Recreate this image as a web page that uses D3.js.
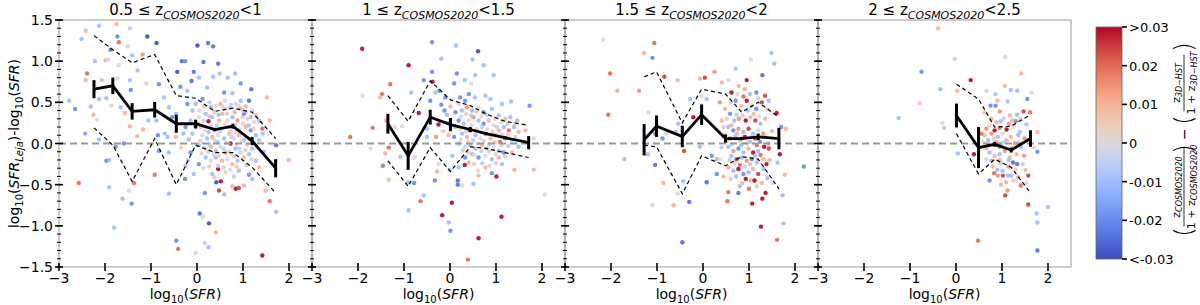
<!DOCTYPE html>
<html>
<head>
<meta charset="utf-8">
<script src="https://cdn.jsdelivr.net/npm/d3@7"></script>
<style>
  body { margin: 0; background: #fff; }
  svg { display: block; font-family: 'DejaVu Sans', sans-serif; }
</style>
</head>
<body>
<div id="chart"></div>
<script>
// redshift bins (panel titles)
const zLo = ['0.5', '1', '1.5', '2']
const zHi = ['1', '1.5', '2', '2.5']

// binned medians, errors and 16/84 percentiles, one array per panel
const binX = [
  [-2.24, -1.83, -1.41, -0.92, -0.45, -0.03, 0.39, 0.78, 1.20, 1.71],
  [-1.35, -0.91, -0.43, 0.01, 0.44, 0.78, 1.19, 1.71],
  [-1.28, -1.01, -0.45, -0.03, 0.49, 0.84, 1.20, 1.65],
  [0.01, 0.49, 0.84, 1.20, 1.62]
]
const medians = [
  [0.66, 0.70, 0.39, 0.41, 0.24, 0.24, 0.17, 0.21, 0.03, -0.30],
  [0.24, -0.15, 0.32, 0.23, 0.17, 0.12, 0.07, 0.01],
  [0.045, 0.21, 0.085, 0.35, 0.06, 0.06, 0.08, 0.06],
  [0.34, -0.05, -0.01, -0.08, 0.06]
]
const errors = [
  [0.11, 0.10, 0.10, 0.095, 0.11, 0.05, 0.02, 0.03, 0.05, 0.11],
  [0.12, 0.17, 0.09, 0.08, 0.03, 0.02, 0.02, 0.08],
  [0.19, 0.13, 0.13, 0.125, 0.05, 0.02, 0.04, 0.13],
  [0.145, 0.25, 0.03, 0.03, 0.10]
]
const upper = [
  [1.31, 1.14, 0.98, 1.08, 0.58, 0.55, 0.39, 0.43, 0.38, 0.06],
  [0.58, 0.27, 0.76, 0.53, 0.46, 0.36, 0.27, 0.22],
  [0.81, 0.87, 0.25, 0.66, 0.60, 0.38, 0.50, 0.32],
  [0.72, 0.54, 0.20, 0.21, 0.35]
]
const lower = [
  [0.19, -0.02, -0.46, 0.06, -0.50, -0.02, -0.11, -0.11, -0.29, -0.60],
  [-0.21, -0.52, -0.05, -0.34, -0.04, -0.06, -0.11, -0.17],
  [-0.02, -0.04, -0.61, -0.15, -0.27, -0.16, -0.19, -0.55],
  [0.12, -0.37, -0.19, -0.29, -0.60]
]

// galaxies: [log SFR, delta log SFR, delta z/(1+z)]
const pts1 = [
  [-2.13,1.43,-0.01],[-1.75,1.45,0.01],[-1.46,1.40,-0.005],[-2.42,1.37,0.01],[-2.51,1.27,-0.01],
  [-1.73,1.30,-0.02],[-1.70,1.23,0.02],[-1.51,1.18,0.005],[-1.88,1.14,-0.025],[-1.08,1.30,-0.03],
  [-0.88,1.22,-0.03],[-2.22,1.0,-0.01],[-1.99,1.01,0.01],[-1.93,1.02,0],[-1.41,1.07,-0.01],
  [-1.18,1.08,0.015],[-1.29,0.89,-0.01],[-1.70,0.95,0],[-2.39,0.85,0.02],[-2.42,0.77,0.01],
  [-2.07,0.77,0.01],[-1.73,0.79,0],[-1.46,0.77,-0.01],[-1.10,0.73,0.005],[-0.83,0.72,-0.02],
  [-1.44,0.65,-0.02],[-2.13,0.54,-0.01],[-1.97,0.55,-0.01],[-1.86,0.46,0.005],[-2.78,0.52,-0.01],
  [-2.65,0.42,-0.02],[-2.31,0.45,-0.01],[-2.25,0.35,0.01],[-2.17,0.29,0],[-2.43,0.12,-0.015],
  [-1.66,0.44,-0.01],[-1.57,0.37,0.01],[-1.46,0.21,0.01],[-1.17,0.17,0.01],[-1.06,0.28,-0.01],
  [-0.88,0.28,-0.01],[-1.30,0.09,0.01],[-0.85,0.10,-0.02],[-2.13,0.05,-0.01],[-1.77,-0.04,-0.02],
  [-1.59,0.0,-0.02],[-1.97,-0.21,-0.02],[-1.91,-0.20,-0.01],[-2.57,-0.48,0.02],[-1.91,-0.53,-0.01],
  [-1.48,-0.57,0],[-1.37,-0.48,0.02],[-1.62,-0.67,-0.01],[-1.42,-0.73,-0.02],[-1.80,-1.02,-0.01],
  [-0.92,-0.38,0.02],[-0.83,-0.09,-0.02],[-0.61,-0.11,-0.01],[-0.70,0.12,-0.01],[-0.46,0.08,0.01],
  [-0.61,-0.61,-0.01],[-0.26,-0.43,-0.02],[-0.25,-0.27,-0.01],[-0.45,-1.18,-0.02],[-0.41,-1.28,0.02],
  [-0.03,-1.33,0],[0.06,-0.85,-0.025],[0.13,-0.89,0],[0.26,-0.97,-0.03],[0.41,-1.08,0.01],
  [0.17,-1.21,-0.005],[0.25,-1.26,-0.01],[1.42,-1.36,0.03],[0.17,-0.60,-0.02],[0.42,-0.47,-0.03],
  [0.52,-0.46,0.03],[0.46,-0.31,0.03],[0.48,-0.57,0.025],[0.59,-0.62,-0.01],[0.84,-0.55,0.03],
  [0.91,-0.54,0.025],[1.02,-0.51,0.01],[0.77,-0.52,0.01],[1.13,-0.38,-0.02],[1.20,-0.43,-0.01],
  [1.49,-0.57,0.01],[1.58,-0.70,0.02],[1.72,-0.83,-0.01],[1.99,-0.20,0.01],[1.72,-0.02,-0.025],
  [1.52,0.56,0.01],[1.58,0.28,0.01],[0.01,1.19,-0.03],[0.24,1.22,-0.025],[0.35,1.18,-0.025],
  [-0.33,1.0,-0.025],[-0.26,1.0,-0.02],[0.14,0.99,-0.025],[0.46,0.97,-0.025],[-0.43,0.87,-0.03],
  [-0.07,0.87,-0.025],[0.49,0.85,-0.01],[-0.12,0.76,-0.025],[0.04,0.80,-0.01],[0.35,0.81,-0.01],
  [0.67,0.80,-0.01],[0.83,0.85,-0.01],[0.95,0.73,-0.02],[1.18,0.66,-0.025],[-0.21,0.64,-0.01],
  [-0.36,0.69,-0.02],[0.22,0.68,-0.01],[0.59,0.62,-0.02],[0.77,0.61,-0.01],[1.13,0.52,-0.025],
  [1.06,0.45,0.01],[-0.03,0.48,-0.01],[0.12,0.54,-0.02],[0.30,0.44,-0.01],[0.41,0.46,0],
  [0.51,0.48,0.01],[0.61,0.52,0],[0.71,0.43,-0.01],[0.84,0.48,0],[0.95,0.43,0.01],
  [1.06,0.38,0],[1.17,0.32,-0.01],[1.28,0.34,0.01],[1.35,0.28,-0.01],[1.42,0.18,0.02],
  [1.43,0.12,-0.01],[0.25,0.27,0.03],[0.19,0.36,-0.01],[0.04,0.32,0],[-0.14,0.28,-0.01],
  [-0.25,0.20,-0.02],[-0.30,0.12,-0.01],[-0.10,0.12,-0.01],[0.08,0.20,0.01],[0.30,0.22,0],
  [0.37,0.16,-0.01],[0.48,0.28,0.01],[0.55,0.36,0.01],[0.66,0.28,0],[0.77,0.32,-0.01],
  [0.88,0.28,0.015],[0.99,0.32,0],[1.06,0.20,0.01],[1.17,0.16,-0.02],[1.28,0.10,-0.01],
  [1.35,0.04,-0.01],[0.12,0.10,0],[0.22,0.06,-0.01],[0.33,0.08,0.01],[0.46,0.10,0],
  [0.59,0.06,-0.01],[0.70,0.12,0.01],[0.80,0.06,0],[0.91,0.10,0.01],[1.02,0.04,-0.01],
  [1.09,-0.02,0],[1.20,-0.06,-0.01],[0.04,-0.02,-0.01],[0.19,-0.06,0],[0.30,-0.04,0.01],
  [0.41,-0.09,-0.01],[0.51,-0.04,0],[0.62,-0.11,0.01],[0.73,0.0,0.03],[0.84,-0.06,-0.01],
  [0.95,-0.11,0],[1.02,-0.17,0.01],[1.13,-0.13,-0.01],[1.28,-0.21,-0.01],[1.35,-0.29,0.01],
  [0.19,-0.17,-0.01],[0.30,-0.21,0],[0.41,-0.17,-0.01],[0.55,-0.21,0.01],[0.66,-0.19,0],
  [0.77,-0.25,0.01],[0.88,-0.21,-0.01],[0.04,-0.25,-0.02],[-0.07,-0.37,-0.01],[0.33,-0.37,-0.01],
  [0.62,-0.35,0],[0.91,-0.33,-0.01],[-0.14,-0.11,-0.02],[-0.03,0.20,-0.025],[-0.10,0.40,-0.01],
  [-0.21,0.48,-0.02],[-0.54,0.32,-0.02],[-0.46,0.36,-0.01],[-0.61,0.44,-0.01],[-0.72,0.56,-0.01],
  [-0.64,0.08,-0.01],[0.95,0.52,-0.01],[1.02,0.36,-0.02],[1.20,0.40,0],[0.59,0.42,0.015],
  [0.33,0.32,-0.01],[0.70,0.20,-0.01],[0.25,0.14,-0.01],[0.44,0.02,-0.01],[0.84,0.14,0],
  [0.77,-0.13,0]
]
// the crowded core of panel 1
const core1 = [
  [0.05,0.40,0],[0.15,0.45,0.005],[0.27,0.50,-0.005],[0.38,0.38,0.005],[0.47,0.35,-0.01],
  [0.56,0.44,0],[0.65,0.36,0.005],[0.74,0.47,-0.005],[0.82,0.38,0.01],[0.90,0.46,0],
  [1.00,0.40,-0.005],[1.10,0.30,0.005],[1.24,0.26,0],[0.02,0.25,0.005],[0.14,0.28,-0.005],
  [0.28,0.33,0.01],[0.43,0.22,-0.005],[0.52,0.18,0.005],[0.61,0.23,0],[0.73,0.15,0.005],
  [0.83,0.22,-0.005],[0.93,0.17,0],[1.00,0.24,0.005],[1.12,0.22,-0.01],[1.23,0.18,0.005],
  [0.07,0.03,0.005],[0.18,0.16,0],[0.27,-0.01,-0.005],[0.38,0.04,0],[0.50,0.15,-0.005],
  [0.63,0.01,0.005],[0.75,0.08,-0.005],[0.86,-0.01,0.005],[0.97,0.03,0],[1.14,0.06,0.005],
  [1.25,0.00,0],[0.10,-0.12,0.005],[0.24,-0.10,-0.005],[0.36,-0.13,0],[0.47,-0.15,0.005],
  [0.58,-0.07,-0.005],[0.70,-0.10,0],[0.81,-0.16,0.005],[0.92,-0.06,-0.005],[1.05,-0.08,0.005],
  [1.18,-0.19,0],[0.14,-0.30,0],[0.26,-0.28,0.005],[0.46,-0.27,-0.005],[0.58,-0.29,0.005],
  [0.72,-0.32,0],[0.86,-0.28,0.005],[1.08,-0.26,-0.005],[0.38,-0.41,0.005],[0.80,-0.40,-0.005],
  [-0.18,0.05,-0.01],[-0.35,-0.05,0.005],[-0.20,-0.20,-0.005],[1.30,-0.05,0.005],[1.45,-0.10,-0.01]
]
const pts2 = [
  [-1.91,1.15,0.03],[-1.90,0.58,0],[-0.90,0.95,0.03],[-0.39,1.23,-0.02],[0.13,1.19,-0.01],
  [0.61,1.12,-0.03],[-0.19,1.03,-0.01],[0.49,1.02,-0.01],[0.73,0.95,-0.01],[0.15,0.85,-0.02],
  [0.55,0.83,-0.01],[0.95,0.83,-0.01],[-0.39,0.87,-0.02],[-0.38,0.75,0.03],[-0.57,0.77,-0.02],
  [0.32,0.77,-0.01],[0.46,0.73,0],[0.09,0.73,-0.02],[-1.30,0.72,0.02],[-1.48,0.60,0.02],
  [-1.52,0.56,0.01],[-0.84,0.62,-0.01],[-0.68,0.37,0.03],[-0.32,0.62,-0.01],[-0.23,0.64,-0.02],
  [-0.43,0.52,-0.02],[-0.10,0.56,-0.02],[0.22,0.56,-0.02],[0.41,0.60,-0.02],[0.54,0.56,-0.01],
  [0.77,0.58,-0.01],[0.88,0.54,-0.01],[1.33,0.51,-0.01],[1.73,0.46,-0.02],[-1.68,0.19,0.02],
  [-2.17,0.08,0.02],[-1.73,-0.06,0],[-1.33,-0.05,0.02],[-1.41,-0.12,0.01],[-1.46,-0.27,-0.02],
  [-1.33,-0.44,0.01],[-1.39,0.28,0.01],[-1.20,0.20,0],[-1.04,0.21,0],[-1.08,-0.16,-0.01],
  [-0.77,-0.17,0],[-0.91,-0.47,-0.01],[-0.78,-0.48,-0.02],[-0.90,-0.81,-0.01],[-0.57,-0.63,-0.01],
  [-0.64,-0.70,0.02],[-0.33,-0.45,-0.02],[-0.28,-0.34,0.01],[-0.25,-0.25,0],[-0.50,0.08,-0.01],
  [-0.30,0.08,0.015],[-0.50,0.18,-0.01],[-0.25,0.23,0.03],[-0.07,0.35,-0.01],[-0.12,0.40,-0.02],
  [-0.19,0.47,-0.02],[0.01,0.45,0.01],[0.12,0.38,-0.02],[-0.03,0.10,0.01],[-0.01,-0.32,-0.01],
  [0.17,-0.45,-0.025],[0.17,-0.50,-0.025],[0.26,-0.51,0],[0.32,-0.26,0.03],[0.04,-0.72,0.03],
  [-0.17,-0.87,0.03],[-0.03,-0.96,-0.01],[0.01,-1.06,-0.02],[0.62,-1.15,0.03],[0.39,-1.41,0.02],
  [1.12,-0.89,0.03],[1.01,-0.40,0.03],[0.91,-0.36,-0.02],[1.40,-0.32,0.01],[1.82,-0.32,0.01],
  [2.06,-0.62,0],[1.82,0.06,0],[0.51,-0.49,-0.01],[0.62,-0.39,0.01],[0.77,-0.29,0.01],
  [0.61,-0.33,0],[0.19,0.28,-0.02],[0.30,0.24,-0.01],[0.41,0.28,0],[0.51,0.32,0.015],
  [0.62,0.28,-0.01],[0.73,0.24,-0.02],[0.84,0.28,0.01],[0.95,0.22,0],[1.06,0.16,0.01],
  [1.17,0.20,-0.01],[1.28,0.16,0.02],[1.39,0.20,-0.01],[1.49,0.14,0.01],[0.26,0.40,-0.01],
  [0.37,0.44,0.015],[0.48,0.40,-0.01],[0.62,0.44,0],[0.73,0.38,-0.02],[0.91,0.42,-0.01],
  [1.06,0.34,-0.01],[1.20,0.30,0.01],[0.26,0.12,-0.01],[0.37,0.08,0.01],[0.44,0.16,0.03],
  [0.55,0.10,-0.01],[0.66,0.06,0],[0.77,0.12,-0.01],[0.88,0.06,0.01],[0.99,0.10,-0.01],
  [1.09,0.02,0.02],[1.20,0.06,-0.01],[1.35,0.04,0],[0.19,0.0,-0.01],[0.33,-0.04,0],
  [0.44,-0.02,-0.01],[0.55,-0.06,-0.01],[0.70,-0.02,0.01],[0.80,-0.06,-0.01],[0.95,-0.04,0],
  [1.06,-0.09,-0.01],[1.17,-0.11,-0.02],[0.48,-0.13,-0.01],[0.62,-0.17,-0.02],[0.77,-0.15,0],
  [0.91,-0.19,-0.01],[1.06,-0.17,0.01],[0.33,-0.17,-0.02],[0.12,0.20,-0.01],[0.09,0.08,-0.02],
  [0.19,0.48,0],[0.33,0.52,-0.02],[1.13,0.48,-0.01],[1.31,0.32,-0.01],[1.46,0.28,-0.01],
  [1.64,0.16,0.01],[1.49,-0.04,-0.01],[1.35,-0.11,0.01],[1.13,-0.25,-0.01],[0.19,-0.29,-0.01],
  [0.41,-0.23,0.01]
]
const core2 = [
  [0.24,0.33,0],[0.35,0.36,0.005],[0.46,0.34,-0.005],[0.57,0.39,0.005],[0.68,0.33,0],
  [0.80,0.35,-0.005],[0.98,0.30,0.005],[1.12,0.26,0],[1.25,0.24,-0.005],[1.42,0.24,0.005],
  [0.22,0.18,0.005],[0.35,0.15,-0.005],[0.47,0.22,0],[0.58,0.17,0.005],[0.69,0.20,-0.005],
  [0.81,0.17,0],[0.92,0.14,0.005],[1.02,0.20,-0.005],[1.14,0.11,0],[1.26,0.10,0.005],
  [1.42,0.08,-0.005],[0.24,0.05,0],[0.39,0.02,0.005],[0.50,0.04,-0.005],[0.61,0.00,0],
  [0.73,0.03,0.005],[0.85,-0.01,-0.005],[0.97,0.02,0.005],[1.12,-0.02,0],[1.27,-0.03,-0.005],
  [0.28,-0.08,-0.005],[0.41,-0.11,0.005],[0.53,-0.14,0],[0.68,-0.09,-0.005],[0.85,-0.10,0.005],
  [0.99,-0.13,0],[1.20,-0.16,-0.005],[0.52,-0.25,0.005],[0.70,-0.24,-0.005],[0.86,-0.27,0],
  [1.00,-0.24,0.005],[-0.05,0.25,-0.005],[-0.15,0.15,0.005],[0.05,-0.15,-0.01]
]
const pts3 = [
  [-2.17,1.26,0],[-1.06,1.22,0.02],[-1.28,1.10,0.01],[-1.10,1.04,-0.02],[-2.02,0.85,0.02],
  [-1.86,0.64,0.01],[-1.39,0.64,0.015],[-2.06,0.35,0.02],[-1.71,-0.19,-0.01],[-0.84,0.81,0.025],
  [-1.19,0.38,0],[-1.04,0.12,-0.02],[-0.88,0.06,-0.02],[-0.80,0.12,0],[-1.20,-0.13,-0.01],
  [-1.04,-0.26,-0.025],[-0.86,-0.48,0.01],[-1.10,-0.75,0],[-0.64,-0.75,0.01],[-0.55,-0.61,0],
  [-0.43,-0.46,-0.01],[-0.30,-0.71,-0.025],[-0.45,-1.20,-0.025],[-0.41,-0.09,0.025],[-0.55,0.77,0.01],
  [-0.54,0.24,-0.01],[-0.59,0.14,-0.01],[-0.07,0.79,0.01],[-0.03,0.58,0],[0.08,0.54,-0.01],
  [0.04,0.80,0.025],[0.25,0.87,0.015],[-0.21,0.32,0.03],[-0.28,0.54,-0.01],[-0.07,-0.04,-0.01],
  [0.19,-0.15,-0.02],[0.30,-0.37,-0.02],[0.08,-0.47,-0.025],[0.30,-0.19,-0.01],[0.71,0.91,-0.01],
  [1.04,1.02,0],[1.49,1.10,-0.01],[1.55,0.97,-0.01],[1.29,0.83,-0.025],[0.95,0.77,0.03],
  [0.41,0.74,0.01],[0.55,0.77,0],[0.62,0.62,0.03],[0.78,0.70,0.01],[0.91,0.66,0.01],
  [1.16,0.62,-0.02],[1.35,0.58,0.025],[1.43,0.52,-0.01],[1.60,0.37,0.03],[0.37,0.50,0.015],
  [0.48,0.42,0.01],[0.59,0.36,-0.02],[0.71,0.52,-0.02],[0.84,0.46,0.01],[0.95,0.52,0.03],
  [1.06,0.46,0],[1.16,0.42,-0.02],[1.28,0.50,0.025],[0.68,0.28,-0.01],[0.78,0.30,0.015],
  [0.93,0.28,0.03],[1.03,0.32,0.01],[1.14,0.28,0.025],[1.25,0.24,-0.01],[1.35,0.30,0.01],
  [0.55,0.20,-0.01],[0.66,0.16,-0.02],[0.77,0.18,0.015],[0.88,0.14,-0.01],[0.99,0.18,0.025],
  [1.09,0.12,-0.01],[1.20,0.16,0],[1.31,0.12,0.015],[0.48,0.10,0.01],[0.59,0.06,-0.02],
  [0.70,0.08,-0.01],[0.80,0.04,0.01],[0.91,0.08,0.03],[1.02,0.02,-0.01],[1.13,0.06,0.025],
  [1.24,0.02,-0.02],[1.35,0.08,-0.01],[1.70,0.20,-0.02],[1.80,0.18,0.01],[0.55,-0.04,-0.01],
  [0.66,-0.09,0.015],[0.77,-0.06,-0.02],[0.88,-0.11,-0.01],[0.99,-0.06,0.01],[1.09,-0.11,0.03],
  [1.20,-0.09,-0.01],[1.33,-0.04,0.03],[1.43,-0.06,0.025],[1.67,-0.13,0.03],[0.62,-0.15,-0.01],
  [0.73,-0.19,0.025],[0.84,-0.17,-0.01],[0.95,-0.21,0.015],[1.06,-0.19,-0.02],[1.17,-0.23,-0.01],
  [1.32,-0.19,0.01],[1.38,-0.25,0.03],[0.55,-0.29,0.01],[0.66,-0.33,-0.01],[0.77,-0.31,0.03],
  [0.88,-0.37,-0.02],[0.99,-0.35,-0.01],[1.09,-0.31,0.01],[1.20,-0.37,0.025],[1.32,-0.31,-0.01],
  [0.93,-0.43,0.03],[1.04,-0.45,0.01],[1.12,-0.45,0.03],[1.28,-0.48,0.01],[0.80,-0.52,-0.01],
  [0.77,-0.60,-0.025],[0.55,-0.59,0.02],[0.53,-0.70,0.02],[1.07,-0.73,0.03],[1.29,-0.67,0.03],
  [1.36,-0.60,0.03],[1.26,-1.01,0.03],[1.75,-0.97,-0.01],[1.61,-1.17,0.02],[1.78,-0.38,0.01],
  [1.73,-0.63,-0.01],[2.19,-0.28,-0.02],[1.51,-0.48,0],[1.62,-0.23,-0.01],[0.37,-0.19,0],
  [0.41,0.28,0.01]
]
const core3 = [
  [0.52,0.30,0.005],[0.62,0.22,0.01],[0.73,0.35,-0.005],[0.86,0.34,0.005],[0.97,0.40,-0.01],
  [1.10,0.36,0.01],[1.22,0.33,0],[1.40,0.42,0.005],[0.52,0.03,0.005],[0.63,-0.01,-0.005],
  [0.74,0.12,0.01],[0.83,-0.02,-0.01],[0.95,0.00,0.005],[1.06,0.09,-0.005],[1.17,-0.02,0.02],
  [1.28,0.08,0.005],[1.42,0.00,-0.01],[0.58,-0.20,-0.005],[0.69,-0.24,0.005],[0.80,-0.26,0.02],
  [0.91,-0.28,-0.005],[1.02,-0.25,0.01],[1.13,-0.15,-0.01],[1.25,-0.14,0.02],[1.45,-0.20,0.01],
  [0.60,-0.43,0.005],[0.72,-0.40,-0.01],[0.85,-0.48,0.01],[1.00,-0.55,0.02],[1.17,-0.52,0.005],
  [1.40,-0.42,-0.01],[0.60,0.50,0.005],[0.75,0.60,0],[0.88,0.57,0.02],[1.02,0.60,-0.01],
  [1.20,0.55,0.005],[0.45,0.20,0.005],[0.40,-0.05,-0.005],[0.45,-0.40,0.01],[1.50,0.15,0.01]
]
const pts4 = [
  [-0.39,1.40,0.01],[-0.03,1.03,-0.005],[-0.75,0.87,-0.02],[-0.34,0.66,-0.01],[-0.79,0.49,0.005],
  [-1.25,0.31,-0.01],[-0.30,0.25,0],[-0.26,0.19,0.01],[0.04,-0.12,-0.01],[0.03,0.64,0.01],
  [0.32,0.77,0.03],[1.07,1.05,0],[1.42,0.85,0.01],[0.66,0.64,0.005],[0.86,0.60,-0.01],
  [1.06,0.70,0.01],[1.19,0.65,-0.01],[1.33,0.64,-0.01],[1.64,0.62,0],[0.75,0.46,-0.02],
  [0.86,0.46,-0.02],[1.12,0.51,-0.01],[1.55,0.54,-0.02],[0.95,0.39,0.015],[1.17,0.34,0.01],
  [1.33,0.35,-0.01],[1.47,0.39,0.025],[1.61,0.38,0.02],[0.77,0.30,0.01],[0.97,0.27,-0.01],
  [1.15,0.24,0.015],[1.30,0.27,-0.02],[1.53,0.23,-0.01],[0.66,0.18,0.015],[0.84,0.16,0.03],
  [0.95,0.19,0.02],[1.10,0.17,0.03],[1.25,0.20,0],[1.39,0.14,-0.01],[1.77,0.14,0.01],
  [0.62,0.10,0.01],[0.77,0.12,0.015],[0.91,0.08,-0.01],[1.01,0.12,0],[1.19,0.08,0.01],
  [1.35,0.10,-0.01],[1.49,0.06,0.015],[0.59,0.02,0],[0.70,0.04,-0.01],[0.88,0.02,0.01],
  [0.99,0.0,-0.01],[1.10,0.04,0.01],[1.28,0.0,0.015],[1.41,-0.04,-0.01],[1.70,-0.05,0],
  [0.39,-0.13,0.03],[0.73,-0.11,-0.01],[0.84,-0.15,0.01],[0.95,-0.13,-0.01],[1.06,-0.09,0.015],
  [1.17,-0.17,0.01],[1.32,-0.13,0.01],[1.48,-0.15,0.015],[1.77,-0.10,-0.02],[0.66,-0.19,0],
  [0.77,-0.21,-0.01],[0.95,-0.20,0.01],[1.15,-0.20,-0.01],[1.24,-0.23,-0.025],[1.33,-0.25,-0.025],
  [0.90,-0.32,-0.01],[1.01,-0.33,-0.01],[0.83,-0.36,0.02],[0.91,-0.39,0.015],[1.02,-0.39,0.025],
  [1.13,-0.39,-0.01],[1.20,-0.39,-0.01],[1.35,-0.41,0.01],[1.57,-0.39,0.025],[1.51,-0.32,0.01],
  [0.73,-0.45,-0.02],[1.09,-0.47,0.01],[1.41,-0.51,0.02],[1.53,-0.48,0],[1.12,-0.57,0.015],
  [1.07,-0.63,0.025],[1.57,-0.74,0.025],[1.75,-0.85,-0.01],[2.00,-0.77,-0.01],[1.77,-0.96,-0.01],
  [1.77,-1.30,-0.025],[0.48,-1.18,0.02],[0.66,-0.06,0.01],[0.55,0.12,0.02]
]
const core4 = [
  [0.72,0.22,0.005],[0.88,0.26,0.01],[1.04,0.30,-0.005],[1.22,0.28,0.01],[1.40,0.30,0.005],
  [0.70,-0.02,0.01],[0.82,0.06,0.005],[0.94,-0.04,0.015],[1.06,0.02,-0.005],[1.22,-0.05,0.01],
  [1.36,0.02,0.005],[0.80,-0.28,0.01],[0.98,-0.24,-0.005],[1.14,-0.28,0.015],[1.30,-0.32,0.005],
  [1.45,-0.25,-0.005],[0.98,-0.50,0.01],[1.25,-0.45,0.005],[0.62,0.38,0.005],[0.90,0.52,0.01]
]
const points = [pts1.concat(core1), pts2.concat(core2), pts3.concat(core3), pts4.concat(core4)]

// axis ticks
const xTicks = [-3, -2, -1, 0, 1, 2]
const yTicks = [-1.5, -1, -0.5, 0, 0.5, 1, 1.5]
const cbTicks = [-0.03, -0.02, -0.01, 0, 0.01, 0.02, 0.03]
const cbLabels = ['<-0.03', '-0.02', '-0.01', '0', '0.01', '0.02', '>0.03']

const W = 1200, H = 305
const plotTop = 20, plotBot = 267, left0 = 59, panelW = 253
const minus = s => s.replace('-', '\u2212')

const coolwarm = d3.interpolateRgbBasis(['#3b4cc0', '#5673e0', '#7396f5', '#93b5fe', '#b6cefa',
  '#dddcdc', '#f3c7b1', '#f7a98b', '#ea7b60', '#d1493f', '#b40426'])
const cScale = d3.scaleLinear().domain([-0.03, 0.03]).range([0, 1]).clamp(true)
const color = v => coolwarm(cScale(v))

const svg = d3.select('#chart').append('svg').attr('width', W).attr('height', H)

const y = d3.scaleLinear().domain([-1.5, 1.5]).range([plotBot, plotTop])

points.forEach((pts, i) => {
  const x0 = left0 + i * panelW
  const x = d3.scaleLinear().domain([-3, 2.5]).range([x0, x0 + panelW])
  const g = svg.append('g')

  g.append('g').selectAll('circle').data(pts).join('circle')
    .attr('cx', d => x(d[0])).attr('cy', d => y(d[1])).attr('r', 2.2)
    .attr('fill', d => color(d[2])).attr('fill-opacity', 0.9)

  g.append('line').attr('x1', x0).attr('x2', x0 + panelW).attr('y1', y(0)).attr('y2', y(0))
    .attr('stroke', '#999').attr('stroke-width', 1.8).attr('stroke-dasharray', '7,4')

  const bins = binX[i].map((bx, j) => ({ x: bx, m: medians[i][j], e: errors[i][j], hi: upper[i][j], lo: lower[i][j] }))
  const dashed = k => d3.line().x(d => x(d.x)).y(d => y(d[k]))(bins)
  ;['hi', 'lo'].forEach(k => g.append('path').attr('d', dashed(k)).attr('fill', 'none')
    .attr('stroke', '#000').attr('stroke-width', 1.2).attr('stroke-dasharray', '4,3'))

  g.append('path').attr('d', dashed('m')).attr('fill', 'none').attr('stroke', '#000').attr('stroke-width', 2.8)
  g.selectAll('.eb').data(bins).join('line')
    .attr('x1', d => x(d.x)).attr('x2', d => x(d.x))
    .attr('y1', d => y(d.m - d.e)).attr('y2', d => y(d.m + d.e))
    .attr('stroke', '#000').attr('stroke-width', 3)

  // frame
  g.append('rect').attr('x', x0).attr('y', plotTop).attr('width', panelW).attr('height', plotBot - plotTop)
    .attr('fill', 'none').attr('stroke', '#999').attr('stroke-width', 1)

  // y ticks (in-out), with minor ticks
  const minor = d3.range(-1.5, 1.5001, 0.1).map(v => +v.toFixed(2))
  g.selectAll('.mn').data(minor).join('line')
    .attr('x1', x0 - 2).attr('x2', x0 + 2).attr('y1', d => y(d)).attr('y2', d => y(d))
    .attr('stroke', '#000').attr('stroke-width', 1)
  g.selectAll('.mj').data(yTicks).join('line')
    .attr('x1', x0 - 4).attr('x2', x0 + 4).attr('y1', d => y(d)).attr('y2', d => y(d))
    .attr('stroke', '#000').attr('stroke-width', 1.6)

  // x ticks
  g.selectAll('.xt').data(xTicks).join('line')
    .attr('x1', d => x(d)).attr('x2', d => x(d)).attr('y1', plotBot - 4).attr('y2', plotBot + 4)
    .attr('stroke', '#000').attr('stroke-width', 1.6)
  g.selectAll('.xl').data(xTicks).join('text')
    .attr('x', d => x(d)).attr('y', plotBot + 16).attr('text-anchor', 'middle')
    .attr('font-size', 14).text(d => minus(String(d)))

  // x label
  const xl = g.append('text').attr('x', x0 + panelW / 2).attr('y', 299).attr('text-anchor', 'middle').attr('font-size', 14)
  xl.append('tspan').text('log')
  xl.append('tspan').attr('font-size', 10).attr('dy', 4).text('10')
  xl.append('tspan').attr('dy', -4).text('(')
  xl.append('tspan').attr('font-style', 'italic').text('SFR')
  xl.append('tspan').text(')')

  // title
  const t = g.append('text').attr('x', x0 + panelW / 2).attr('y', 15).attr('text-anchor', 'middle').attr('font-size', 15)
  t.append('tspan').text(`${zLo[i]} \u2264 z`)
  t.append('tspan').attr('font-size', 11).attr('font-style', 'italic').attr('dy', 4).text('COSMOS2020')
  t.append('tspan').attr('dy', -4).text(`<${zHi[i]}`)
})

// y tick labels (first panel only)
svg.selectAll('.yl').data(yTicks).join('text')
  .attr('x', left0 - 6).attr('y', d => y(d) + 5).attr('text-anchor', 'end').attr('font-size', 14)
  .text(d => minus(d.toFixed(1)))

// y label
const yl = svg.append('text').attr('transform', `translate(19,${(plotTop + plotBot) / 2}) rotate(-90)`)
  .attr('text-anchor', 'middle').attr('font-size', 14)
yl.append('tspan').text('log')
yl.append('tspan').attr('font-size', 10).attr('dy', 4).text('10')
yl.append('tspan').attr('dy', -4).text('(')
yl.append('tspan').attr('font-style', 'italic').text('SFR')
yl.append('tspan').attr('font-style', 'italic').attr('font-size', 10).attr('dy', 4).text('Leja')
yl.append('tspan').attr('dy', -4).text(')-log')
yl.append('tspan').attr('font-size', 10).attr('dy', 4).text('10')
yl.append('tspan').attr('dy', -4).text('(')
yl.append('tspan').attr('font-style', 'italic').text('SFR')
yl.append('tspan').text(')')

// colorbar
const cbX = 1096, cbW = 26, cbTop = 27, cbBot = 259
const cb = d3.scaleLinear().domain([-0.03, 0.03]).range([cbBot, cbTop])
const grad = svg.append('defs').append('linearGradient').attr('id', 'cw')
  .attr('x1', 0).attr('y1', 1).attr('x2', 0).attr('y2', 0)
d3.range(0, 1.0001, 0.05).forEach(s => grad.append('stop').attr('offset', s).attr('stop-color', coolwarm(s)))
svg.append('rect').attr('x', cbX).attr('y', cbTop).attr('width', cbW).attr('height', cbBot - cbTop)
  .attr('fill', 'url(#cw)').attr('stroke', '#666').attr('stroke-width', 0.8)
svg.selectAll('.cbt').data(cbTicks).join('line')
  .attr('x1', cbX + cbW).attr('x2', cbX + cbW + 5).attr('y1', d => cb(d)).attr('y2', d => cb(d))
  .attr('stroke', '#000').attr('stroke-width', 1.6)
svg.selectAll('.cbl').data(cbTicks).join('text')
  .attr('x', cbX + cbW + 7).attr('y', d => cb(d) + 5).attr('font-size', 13)
  .text((d, i) => cbLabels[i])

// colorbar label, drawn horizontally then turned
const lab = svg.append('g').attr('transform', 'translate(1184,140) rotate(-90)').attr('font-size', 11)
const frac = (cx, name) => {
  const num = lab.append('text').attr('x', cx).attr('y', -4).attr('text-anchor', 'middle')
  num.append('tspan').text('z')
  num.append('tspan').attr('font-size', 8).attr('font-style', 'italic').attr('dy', 2).text(name)
  const den = lab.append('text').attr('x', cx).attr('y', 11).attr('text-anchor', 'middle')
  den.append('tspan').text('1 + z')
  den.append('tspan').attr('font-size', 8).attr('font-style', 'italic').attr('dy', 2).text(name)
  const w = name.length * 5.5 + 24
  lab.append('line').attr('x1', cx - w / 2).attr('x2', cx + w / 2).attr('y1', 0).attr('y2', 0)
    .attr('stroke', '#000').attr('stroke-width', 0.8)
}
frac(-47, 'COSMOS2020')
frac(57, '3D\u2212HST')
;[[-92, '('], [-9, ')'], [20, '('], [93, ')']].forEach(([px, s]) =>
  lab.append('text').attr('x', px).attr('y', 8).attr('text-anchor', 'middle').attr('font-size', 24)
    .attr('font-weight', 200).text(s))
lab.append('text').attr('x', 6).attr('y', 5).attr('text-anchor', 'middle').attr('font-size', 14).text('\u2212')
</script>
</body>
</html>
